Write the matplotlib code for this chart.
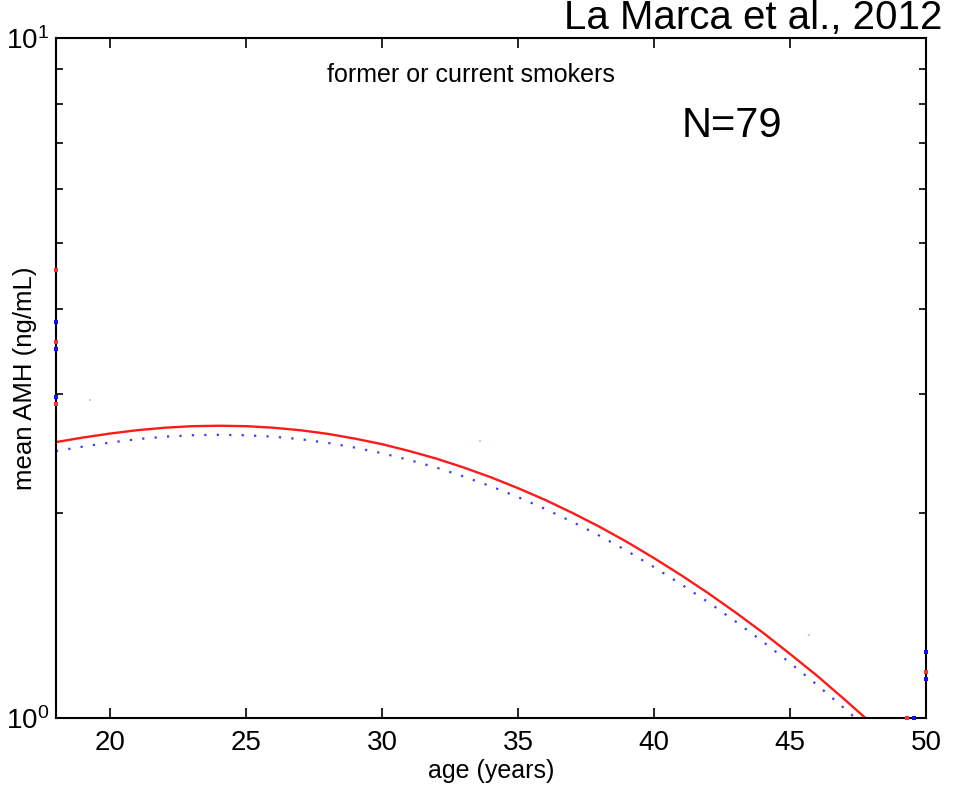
#! /usr/bin/python

"""
Mean AMH versus age for former or current smokers (La Marca et al., 2012).
"""

# LIBRARIES
import matplotlib
matplotlib.use("Agg")
import matplotlib.pyplot as plt
import matplotlib.ticker



# DATA
# Red curve (solid)
age_red = [18, 19, 20, 21, 22, 23, 24, 25, 26, 27, 28, 29, 30, 31, 32, 33,
           34, 35, 36, 37, 38, 39, 40, 41, 42, 43, 44, 45, 46, 47, 47.77]
amh_red = [2.545, 2.585, 2.620, 2.650, 2.672, 2.686, 2.690, 2.686, 2.672,
           2.649, 2.617, 2.575, 2.527, 2.469, 2.406, 2.335, 2.259, 2.177,
           2.092, 2.002, 1.910, 1.815, 1.718, 1.621, 1.525, 1.429, 1.335,
           1.242, 1.153, 1.065, 1.000]

# Blue curve (dotted)
age_blue = [18, 19, 20, 21, 22, 23, 24, 25, 26, 27, 28, 29, 30, 31, 32, 33,
            34, 35, 36, 37, 38, 39, 40, 41, 42, 43, 44, 45, 46, 47, 47.4]
amh_blue = [2.469, 2.507, 2.541, 2.571, 2.592, 2.605, 2.609, 2.605, 2.592,
            2.570, 2.538, 2.498, 2.451, 2.395, 2.334, 2.265, 2.191, 2.112,
            2.029, 1.942, 1.853, 1.761, 1.666, 1.572, 1.479, 1.386, 1.295,
            1.205, 1.118, 1.033, 1.000]

# Data points sitting on the axes edges
age_pts_red = [18, 18, 18, 50, 49.3]
amh_pts_red = [4.56, 3.57, 2.90, 1.168, 1.0]
age_pts_blue = [18, 18, 18, 50, 50, 49.55]
amh_pts_blue = [3.82, 3.49, 2.96, 1.25, 1.141, 1.0]

# Faint specks inside the axes
age_specks = [19.25, 33.6, 45.7]
amh_specks = [2.94, 2.555, 1.325]

x_ticks = [20, 25, 30, 35, 40, 45, 50]
y_ticks = [1, 10]
y_tick_labels = ["$10^0$", "$10^1$"]

FONT = ["Liberation Sans", "DejaVu Sans"]



def plotAMH():

    """
    ============================================================================
    PLOTAMH
    ============================================================================
    """

    # Initialize plot
    plt.rcParams["mathtext.default"] = "regular"
    plt.rcParams["font.family"] = FONT
    fig = plt.figure(figsize = (9.6, 7.85), dpi = 100)
    ax = fig.add_axes([0.0583, 0.0854, 0.9063, 0.8662])

    # Curves
    ax.plot(age_blue, amh_blue, ls = (0, (1, 4.6)), lw = 1.6, c = "#3a3aff")
    ax.plot(age_red, amh_red, ls = "-", lw = 1.7, c = "#ff1a1a")

    # Points on the edges
    ax.plot(age_pts_red, amh_pts_red, ls = "none", marker = "s", ms = 2.6,
            mew = 0, c = "#ff3030", clip_on = False, zorder = 5)
    ax.plot(age_pts_blue, amh_pts_blue, ls = "none", marker = "s", ms = 2.6,
            mew = 0, c = "#1010ff", clip_on = False, zorder = 5)
    ax.plot(age_specks, amh_specks, ls = "none", marker = "s", ms = 2,
            mew = 0, c = "#ff3030", alpha = 0.35)

    # Axes
    ax.set_yscale("log")
    ax.set_xlim(18, 50)
    ax.set_ylim(1, 10)
    ax.set_xticks(x_ticks)
    ax.set_xticklabels([str(t) for t in x_ticks], fontsize = 20)
    ax.set_yticks(y_ticks)
    ax.set_yticklabels(y_tick_labels, fontsize = 20)
    ax.yaxis.set_minor_formatter(matplotlib.ticker.NullFormatter())

    ax.tick_params(which = "both", direction = "in", top = True, right = True,
                   width = 1.2)
    ax.tick_params(axis = "x", which = "major", length = 7, pad = 9)
    ax.tick_params(axis = "y", which = "major", length = 0, pad = 5)
    ax.tick_params(axis = "y", which = "minor", length = 5)

    for s in ax.spines.values():
        s.set_linewidth(1.5)

    # Labels
    ax.set_xlabel("age (years)", fontsize = 18)
    ax.xaxis.set_label_coords(0.5, -0.061)
    ax.set_ylabel("mean AMH (ng/mL)", fontsize = 18.5)
    ax.yaxis.set_label_coords(-0.022, 0.5)

    # Annotations
    fig.text(0.982, 0.963, "La Marca et al., 2012", fontsize = 29,
             ha = "right", va = "baseline")
    fig.text(0.7104, 0.8255, "N=79", fontsize = 30, ha = "left",
             va = "baseline")
    fig.text(0.3406, 0.8955, "former or current smokers", fontsize = 18,
             ha = "left", va = "baseline")

    fig.savefig("out.png", dpi = 100)



def main():

    plotAMH()



# Run this when script is called from terminal
if __name__ == "__main__":
    main()
